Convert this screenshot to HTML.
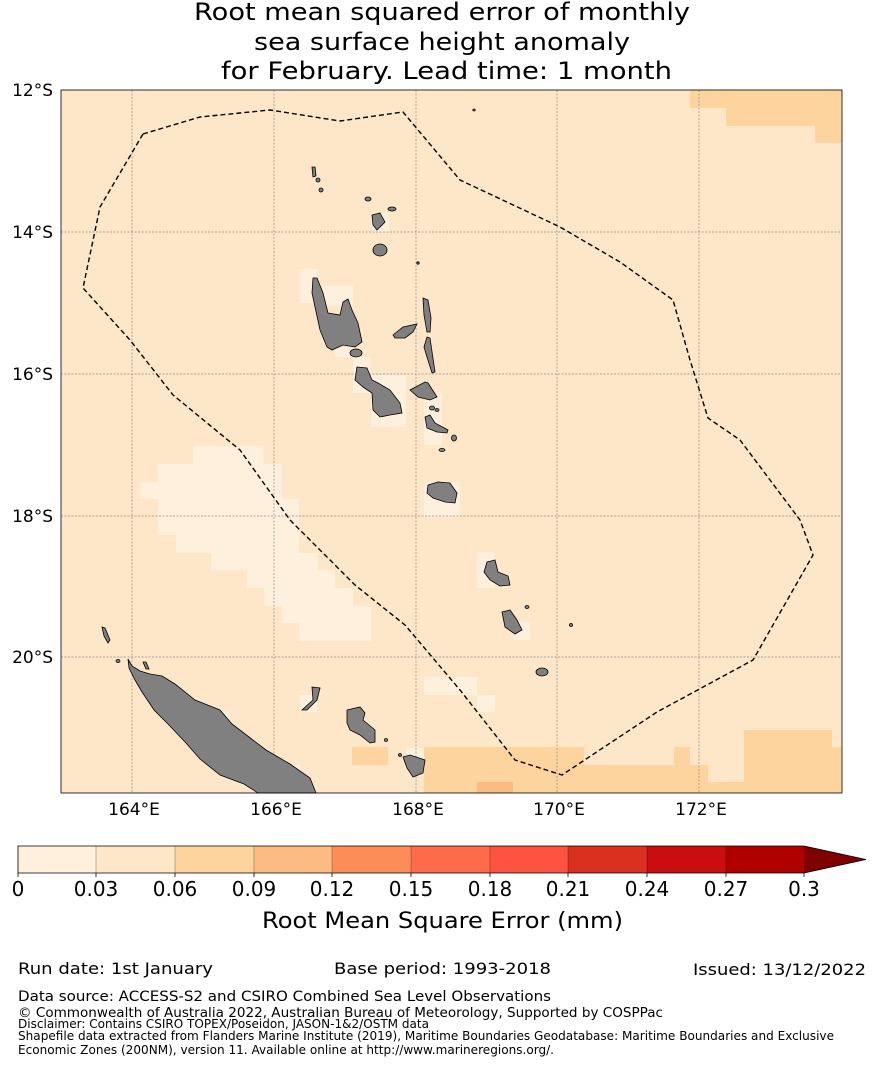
<!DOCTYPE html>
<html><head><meta charset="utf-8"><style>
body{margin:0;background:#fff;}
svg text{font-family:"DejaVu Sans","Liberation Sans",sans-serif;fill:#000;}
</style></head><body>
<svg width="885" height="1065" viewBox="0 0 885 1065" xmlns="http://www.w3.org/2000/svg">
<rect width="885" height="1065" fill="#fff"/>
<g font-size="24">
<text x="194" y="20" textLength="496" lengthAdjust="spacingAndGlyphs">Root mean squared error of monthly</text>
<text x="254" y="50" textLength="376" lengthAdjust="spacingAndGlyphs">sea surface height anomaly</text>
<text x="221" y="79" textLength="451" lengthAdjust="spacingAndGlyphs">for February. Lead time: 1 month</text>
</g>
<rect x="61" y="90" width="781" height="703" fill="#fee6c8"/>
<g fill="#fff0dd">
<rect x="193" y="446" width="71" height="18"/>
<rect x="158" y="464" width="124" height="18"/>
<rect x="140" y="482" width="142" height="17"/>
<rect x="158" y="499" width="141" height="36"/>
<rect x="176" y="535" width="123" height="18"/>
<rect x="211" y="553" width="107" height="17"/>
<rect x="247" y="570" width="88" height="18"/>
<rect x="264" y="588" width="89" height="18"/>
<rect x="282" y="606" width="89" height="17"/>
<rect x="299" y="623" width="72" height="18"/>
<rect x="424" y="677" width="53" height="18"/>
<rect x="477" y="695" width="18" height="17"/>
<rect x="300" y="269" width="17" height="34"/>
<rect x="323" y="286" width="30" height="20"/>
<rect x="335" y="348" width="18" height="9"/>
<rect x="353" y="357" width="18" height="36"/>
<rect x="371" y="375" width="35" height="52"/>
<rect x="424" y="393" width="18" height="52"/>
<rect x="424" y="482" width="36" height="35"/>
<rect x="372" y="213" width="17" height="19"/>
<rect x="477" y="552" width="18" height="36"/>
<rect x="513" y="622" width="17" height="18"/>
<rect x="300" y="695" width="17" height="17"/>
<rect x="220" y="712" width="10" height="18"/>
<rect x="282" y="765" width="18" height="17"/>
<rect x="406" y="748" width="18" height="17"/>
</g>
<g fill="#fdd49e">
<rect x="690" y="90" width="152" height="18"/>
<rect x="726" y="108" width="116" height="18"/>
<rect x="815" y="126" width="27" height="17"/>
<rect x="424" y="747" width="160" height="46"/>
<rect x="352" y="747" width="36" height="18"/>
<rect x="584" y="765" width="106" height="28"/>
<rect x="674" y="747" width="16" height="18"/>
<rect x="690" y="765" width="18" height="28"/>
<rect x="708" y="782" width="36" height="11"/>
<rect x="744" y="730" width="88" height="63"/>
<rect x="832" y="747" width="10" height="46"/>
</g>
<rect x="477" y="782" width="36" height="11" fill="#fdbb84"/>
<g stroke="#777" stroke-width="0.7" stroke-dasharray="2,1.5" opacity="0.8">
<line x1="132" y1="90" x2="132" y2="793"/><line x1="274" y1="90" x2="274" y2="793"/>
<line x1="416" y1="90" x2="416" y2="793"/><line x1="557" y1="90" x2="557" y2="793"/>
<line x1="699" y1="90" x2="699" y2="793"/>
<line x1="61" y1="232" x2="842" y2="232"/><line x1="61" y1="374" x2="842" y2="374"/>
<line x1="61" y1="516" x2="842" y2="516"/><line x1="61" y1="657" x2="842" y2="657"/>
</g>
<g fill="#808080" stroke="#000" stroke-width="0.8">
<polygon points="313,278 317,278 323,293 328,313 340,315 343,302 348,299 352,310 358,323 362,342 355,347 343,345 332,350 327,347 320,330 312,293"/>
<ellipse cx="356" cy="353" rx="6" ry="4"/>
<polygon points="357,367 367,368 372,380 378,383 390,390 400,403 402,413 390,415 380,417 373,410 372,393 363,387 355,380"/>
<polygon points="393,335 403,327 417,324 413,332 405,338 395,338"/>
<polygon points="423,298 428,300 431,318 430,332 427,332 424,315"/>
<polygon points="427,337 430,338 435,372 432,373 427,357 424,347"/>
<polygon points="410,390 425,382 428,383 437,397 430,400 418,397"/>
<ellipse cx="432" cy="408" rx="2.5" ry="2"/>
<ellipse cx="437" cy="410" rx="2" ry="1.5"/>
<polygon points="425,417 430,415 435,423 448,430 447,433 437,432 427,428"/>
<ellipse cx="454" cy="438" rx="2.5" ry="3"/>
<ellipse cx="442" cy="450" rx="3" ry="1.5"/>
<polygon points="428,485 438,482 450,483 457,493 455,503 445,502 433,498 427,493"/>
<polygon points="372,215 380,213 385,222 380,227 377,230 373,225"/>
<ellipse cx="380" cy="250" rx="7" ry="6"/>
<ellipse cx="392" cy="209" rx="4" ry="2"/>
<ellipse cx="368" cy="199" rx="3" ry="2"/>
<polygon points="312,167 315,167 316,176 313,177"/>
<ellipse cx="318" cy="180" rx="2" ry="2"/>
<ellipse cx="321" cy="190" rx="2" ry="2"/>
<polygon points="487,562 495,560 498,572 508,576 510,585 500,586 490,580 484,572"/>
<polygon points="502,612 510,610 517,620 522,630 515,634 505,627"/>
<ellipse cx="527" cy="607" rx="2" ry="1.5"/>
<ellipse cx="571" cy="625" rx="1.5" ry="1.5"/>
<ellipse cx="542" cy="672" rx="6" ry="4"/>
<polygon points="128,659 132,666 140,671 150,674 162,676 175,684 195,700 220,710 232,724 249,737 266,750 290,764 310,778 316,793 258,793 244,784 220,775 200,759 186,743 168,724 154,710 142,692 135,680 129,668"/>
<polygon points="102,627 105,628 110,640 108,643 104,636"/>
<ellipse cx="118" cy="661" rx="2" ry="1.5"/>
<polygon points="143,662 146,662 149,669 146,669"/>
<polygon points="312,687 320,688 317,700 307,710 302,710 313,700"/>
<polygon points="347,710 360,707 365,713 363,720 375,730 375,742 370,743 360,735 350,730 347,723"/>
<polygon points="403,757 410,755 425,760 423,773 413,777 407,768"/>
<ellipse cx="386" cy="740" rx="1.5" ry="1.5"/>
<ellipse cx="400" cy="755" rx="1.5" ry="1.5"/>
<ellipse cx="418" cy="263" rx="1.2" ry="1.2"/>
<ellipse cx="474" cy="110" rx="1.2" ry="1"/>
</g>
<polyline fill="none" stroke="#000" stroke-width="1.4" stroke-dasharray="5,3"
 points="143,134 200,117 270,110 340,121 403,112 460,180 560,227 620,262 673,300 690,360 708,418 740,440 770,480 800,520 813,555 753,660 657,712 562,775 515,760 460,690 405,625 355,585 290,520 240,450 173,395 130,340 83,288 100,207 143,134"/>
<rect x="61" y="90" width="781" height="703" fill="none" stroke="#000" stroke-width="0.8"/>
<g font-size="17">
<g text-anchor="end"><text x="53" y="96">12°S</text><text x="53" y="238">14°S</text><text x="53" y="380">16°S</text><text x="53" y="522">18°S</text><text x="53" y="663">20°S</text></g>
<g text-anchor="middle"><text x="134" y="815">164°E</text><text x="276" y="815">166°E</text><text x="418" y="815">168°E</text><text x="559" y="815">170°E</text><text x="701" y="815">172°E</text></g>
</g>
<g stroke="none">
<rect x="18" y="846" width="79" height="27" fill="#fff0dd"/>
<rect x="96" y="846" width="79" height="27" fill="#fee6c8"/>
<rect x="175" y="846" width="79" height="27" fill="#fdd49e"/>
<rect x="254" y="846" width="79" height="27" fill="#fdbb84"/>
<rect x="332" y="846" width="79" height="27" fill="#fd8d58"/>
<rect x="411" y="846" width="79" height="27" fill="#fd6b4b"/>
<rect x="490" y="846" width="79" height="27" fill="#fe5340"/>
<rect x="568" y="846" width="79" height="27" fill="#d9301f"/>
<rect x="647" y="846" width="79" height="27" fill="#cb0c10"/>
<rect x="726" y="846" width="78" height="27" fill="#b10000"/>
<polygon points="804,846 866,859.5 804,873" fill="#7f0000"/>
</g>
<g stroke="#000" stroke-opacity="0.25" stroke-width="1">
<line x1="96" y1="846" x2="96" y2="873"/><line x1="175" y1="846" x2="175" y2="873"/><line x1="254" y1="846" x2="254" y2="873"/><line x1="332" y1="846" x2="332" y2="873"/><line x1="411" y1="846" x2="411" y2="873"/><line x1="490" y1="846" x2="490" y2="873"/><line x1="568" y1="846" x2="568" y2="873"/><line x1="647" y1="846" x2="647" y2="873"/><line x1="726" y1="846" x2="726" y2="873"/>
</g>
<polygon points="18,846 804,846 866,859.5 804,873 18,873" fill="none" stroke="#000" stroke-width="0.8"/>
<g stroke="#000" stroke-width="0.8">
<line x1="18" y1="873" x2="18" y2="877"/><line x1="96" y1="873" x2="96" y2="877"/><line x1="175" y1="873" x2="175" y2="877"/><line x1="254" y1="873" x2="254" y2="877"/><line x1="332" y1="873" x2="332" y2="877"/><line x1="411" y1="873" x2="411" y2="877"/><line x1="490" y1="873" x2="490" y2="877"/><line x1="568" y1="873" x2="568" y2="877"/><line x1="647" y1="873" x2="647" y2="877"/><line x1="726" y1="873" x2="726" y2="877"/><line x1="804" y1="873" x2="804" y2="877"/>
</g>
<g font-size="20" text-anchor="middle">
<text x="18" y="896">0</text><text x="96" y="896">0.03</text><text x="175" y="896">0.06</text><text x="254" y="896">0.09</text><text x="332" y="896">0.12</text><text x="411" y="896">0.15</text><text x="490" y="896">0.18</text><text x="568" y="896">0.21</text><text x="647" y="896">0.24</text><text x="726" y="896">0.27</text><text x="804" y="896">0.3</text>
</g>
<text x="262" y="928" font-size="22" textLength="361" lengthAdjust="spacingAndGlyphs">Root Mean Square Error (mm)</text>
<g font-size="16">
<text x="18" y="974" textLength="195" lengthAdjust="spacingAndGlyphs">Run date: 1st January</text>
<text x="334" y="974" textLength="217" lengthAdjust="spacingAndGlyphs">Base period: 1993-2018</text>
<text x="693" y="975" textLength="173" lengthAdjust="spacingAndGlyphs">Issued: 13/12/2022</text>
</g>
<text x="18" y="1001" font-size="14" textLength="533" lengthAdjust="spacingAndGlyphs">Data source: ACCESS-S2 and CSIRO Combined Sea Level Observations</text>
<text x="18" y="1017" font-size="13" textLength="645" lengthAdjust="spacingAndGlyphs">© Commonwealth of Australia 2022, Australian Bureau of Meteorology, Supported by COSPPac</text>
<g font-size="12">
<text x="18" y="1028" textLength="411" lengthAdjust="spacingAndGlyphs">Disclaimer: Contains CSIRO TOPEX/Poseidon, JASON-1&amp;2/OSTM data</text>
<text x="18" y="1040" textLength="816" lengthAdjust="spacingAndGlyphs">Shapefile data extracted from Flanders Marine Institute (2019), Maritime Boundaries Geodatabase: Maritime Boundaries and Exclusive</text>
<text x="18" y="1054" textLength="536" lengthAdjust="spacingAndGlyphs">Economic Zones (200NM), version 11. Available online at http://www.marineregions.org/.</text>
</g>
</svg>
</body></html>
